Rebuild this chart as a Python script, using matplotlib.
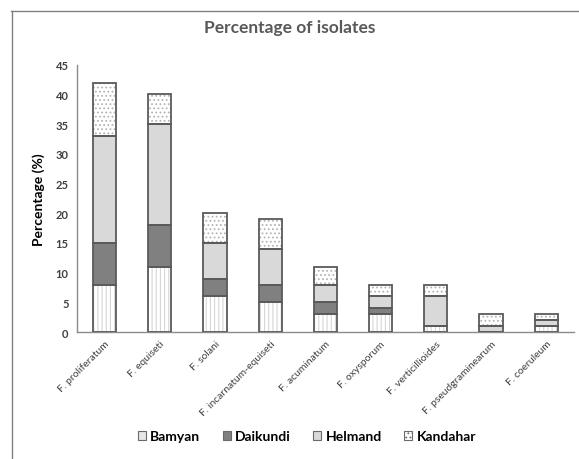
import matplotlib
matplotlib.use("Agg")
import matplotlib.pyplot as plt
from matplotlib.lines import Line2D
from matplotlib.patches import Patch
import numpy as np

species = ["F. proliferatum", "F. equiseti", "F. solani", "F. incarnatum-equiseti",
           "F. acuminatum", "F. oxysporum", "F. verticillioides",
           "F. pseudgraminearum", "F. coeruleum"]
bamyan = [8, 11, 6, 5, 3, 3, 1, 0, 1]
daikundi = [7, 7, 3, 3, 2, 1, 0, 0, 0]
helmand = [18, 17, 6, 6, 3, 2, 5, 1, 1]
kandahar = [9, 5, 5, 5, 3, 2, 2, 2, 1]
series_names = ["Bamyan", "Daikundi", "Helmand", "Kandahar"]
yticks = [0, 5, 10, 15, 20, 25, 30, 35, 40, 45]

plt.rcParams['font.family'] = ['Lato', 'DejaVu Sans']
plt.rcParams['hatch.linewidth'] = 0.8

fig = plt.figure(figsize=(5.79, 4.60), dpi=100)
ax = fig.add_axes([0.133, 0.276, 0.858, 0.581])

x = np.arange(len(species))
w = 0.42
edge = '#5a5a5a'
styles = [
    dict(color='white', hatch='||||', hcol='#d6d6d6'),
    dict(color='#808080', hatch=None, hcol=None),
    dict(color='#d9d9d9', hatch=None, hcol=None),
    dict(color='white', hatch='....', hcol='#b4b4b4'),
]
bottom = np.zeros(len(species))
for vals, st in zip([bamyan, daikundi, helmand, kandahar], styles):
    v = np.array(vals, dtype=float)
    if st['hatch']:
        ax.bar(x, v, w, bottom=bottom, color=st['color'], hatch=st['hatch'],
               edgecolor=st['hcol'], linewidth=0, zorder=2)
    else:
        ax.bar(x, v, w, bottom=bottom, color=st['color'], linewidth=0, zorder=2)
    ax.bar(x, v, w, bottom=bottom, fill=False, edgecolor=edge, linewidth=1.3, zorder=3)
    bottom += v

ax.set_xlim(-0.5, len(species) - 0.5)
ax.set_ylim(0, 45)
ax.set_yticks(yticks)
ax.set_yticklabels([str(t) for t in yticks], fontsize=8, fontweight='bold', color='#404040')
ax.set_xticks(x)
ax.set_xticklabels(species, rotation=45, ha='right', rotation_mode='anchor',
                   fontsize=7.5, color='#404040')
ax.tick_params(axis='both', length=0, pad=6)
ax.tick_params(axis='x', pad=5)
for s in ['top', 'right']:
    ax.spines[s].set_visible(False)
ax.spines['left'].set_color('#8c8c8c')
ax.spines['bottom'].set_color('#8c8c8c')
ax.spines['left'].set_linewidth(1.0)
ax.spines['bottom'].set_linewidth(1.0)
ax.set_ylabel("Percentage (%)", fontsize=10, fontweight='bold', labelpad=8)

fig.text(0.5, 0.94, "Percentage of isolates", ha='center', va='center',
         fontsize=12.5, fontweight='bold', color='#595959')

# outer frame (top and left)
fig.add_artist(Line2D([0.019, 1.0], [0.974, 0.974], color='#808080', linewidth=1.0,
                      transform=fig.transFigure))
fig.add_artist(Line2D([0.020, 0.020], [0.0, 0.974], color='#808080', linewidth=1.0,
                      transform=fig.transFigure))

handles = [
    Patch(facecolor='#e6e6e6', edgecolor='#6a6a6a', linewidth=0.8),
    Patch(facecolor='#808080', edgecolor='#6a6a6a', linewidth=0.8),
    Patch(facecolor='#d9d9d9', edgecolor='#6a6a6a', linewidth=0.8),
    Patch(facecolor='white', edgecolor='#6a6a6a', hatch='....', linewidth=0.8),
]
fig.legend(handles, series_names, loc='center', bbox_to_anchor=(0.53, 0.05),
           ncol=4, frameon=False, prop={'size': 10, 'weight': 'bold'},
           handlelength=0.6, handleheight=0.6, handletextpad=0.3, columnspacing=1.6)

fig.savefig("out.png", dpi=100)
